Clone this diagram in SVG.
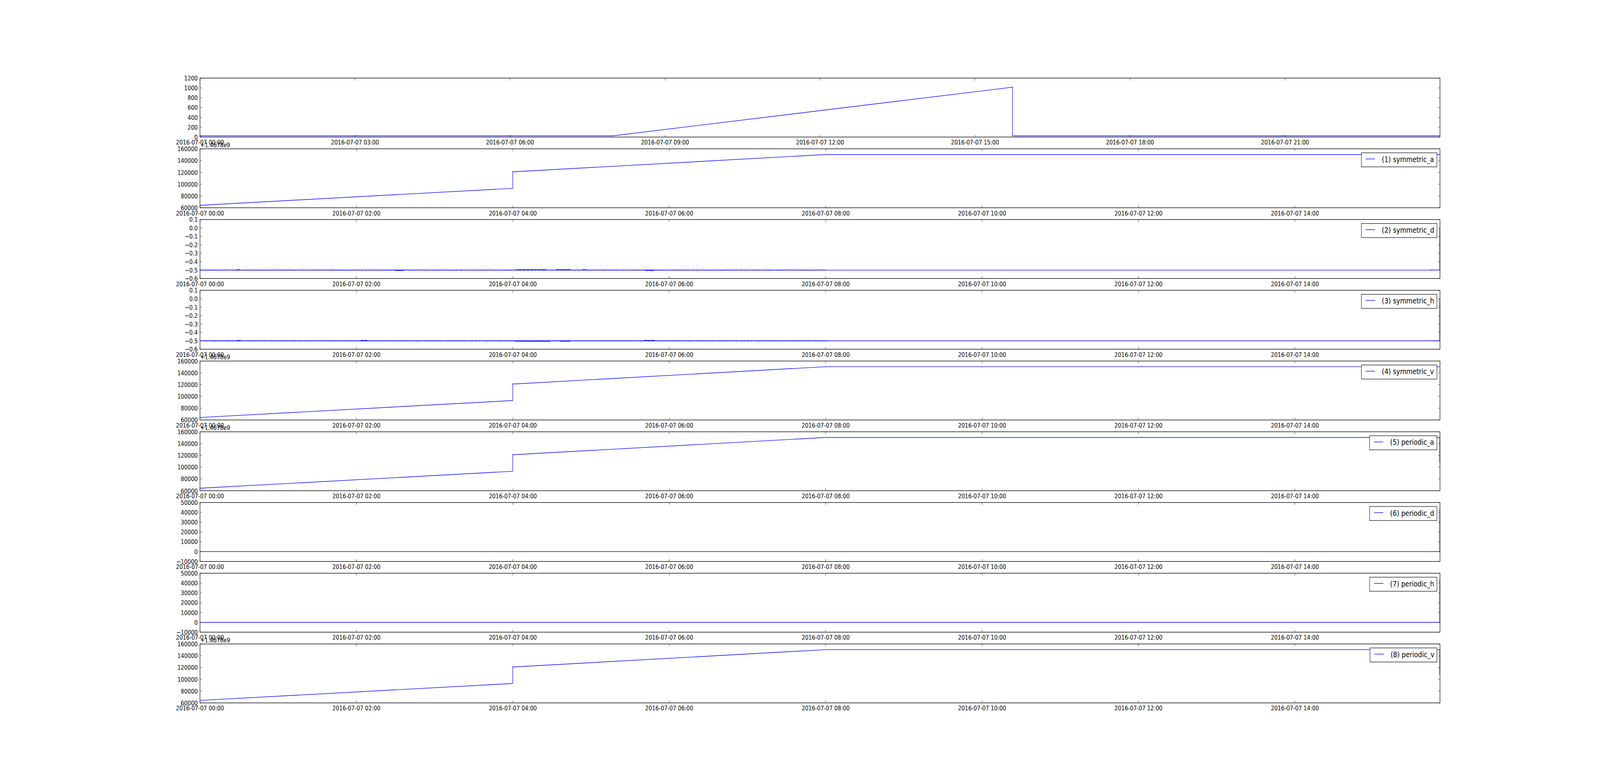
<svg xmlns="http://www.w3.org/2000/svg" width="5000" height="2000" viewBox="0 0 5000 2000" preserveAspectRatio="none">
<style>
svg{width:100vw;height:100vh}
.bg{fill:#ffffff}
.frame{fill:none;stroke:#000;stroke-width:1.4}
.tick{fill:none;stroke:#000;stroke-width:0.8}
.data{fill:none;stroke:#0000ff;stroke-width:1.4;stroke-linejoin:miter}
.tk{font-family:"DejaVu Sans","Bitstream Vera Sans",sans-serif;font-size:16.67px;fill:#000}
.yl{text-anchor:end}
.xl{text-anchor:middle}
.lbox{fill:#fff;stroke:#000;stroke-width:1.2}
.lline{stroke:#0000ff;stroke-width:1.4}
.lg{font-family:"DejaVu Sans","Bitstream Vera Sans",sans-serif;font-size:20px;fill:#000}
</style>
<defs>
<pattern id="nz1" x="0" y="-3" width="37" height="6" patternUnits="userSpaceOnUse">
<g fill="#0000ff"><rect x="0" y="1.8" width="3" height="1.2"/><rect x="5" y="3.2" width="2" height="1.1"/><rect x="9" y="1.6" width="1" height="1.4"/><rect x="12" y="1.9" width="4" height="1.1"/><rect x="18" y="3.3" width="1" height="1.2"/><rect x="21" y="2" width="3" height="2"/><rect x="27" y="1.7" width="2" height="1.3"/><rect x="31" y="3.2" width="3" height="1.1"/><rect x="35" y="1.9" width="1" height="2.2"/></g>
</pattern>
<pattern id="nz2" x="0" y="-3" width="23" height="6" patternUnits="userSpaceOnUse">
<g fill="#0000ff"><rect x="2" y="3.2" width="2" height="1.2"/><rect x="7" y="1.7" width="1" height="1.3"/><rect x="11" y="1.9" width="3" height="1.1"/><rect x="16" y="3.3" width="2" height="1"/><rect x="20" y="1.5" width="1" height="1.5"/></g>
</pattern>
<pattern id="nzB" x="0" y="-3" width="13" height="6" patternUnits="userSpaceOnUse">
<g fill="#0000ff"><rect x="0" y="0.9" width="4" height="2.1"/><rect x="4" y="1.6" width="3" height="1.4"/><rect x="7" y="0.5" width="2" height="2.5"/><rect x="9" y="1.3" width="4" height="1.7"/></g>
</pattern>
</defs>
<rect class="bg" x="0" y="0" width="5000" height="2000"/>

<!-- Axis 0 -->
<g id="ax0" transform="translate(0,200)">
<path class="data" d="M625 147.7 L1916.7 147.7 L3164.3 23.3 L3164.3 147.7 L4500 147.7"/>
<rect class="frame" x="625" y="0" width="3875" height="150.94"/>
<path class="tick" d="M625 150.94h6M4500 150.94h-6M625 125.78h6M4500 125.78h-6M625 100.63h6M4500 100.63h-6M625 75.47h6M4500 75.47h-6M625 50.31h6M4500 50.31h-6M625 25.16h6M4500 25.16h-6M625 0h6M4500 0h-6"/>
<path class="tick" d="M625 150.94v-6M625 0v6M1109.4 150.94v-6M1109.4 0v6M1593.8 150.94v-6M1593.8 0v6M2078.1 150.94v-6M2078.1 0v6M2562.5 150.94v-6M2562.5 0v6M3046.9 150.94v-6M3046.9 0v6M3531.3 150.94v-6M3531.3 0v6M4015.6 150.94v-6M4015.6 0v6"/>
<g class="tk yl">
<text x="618" y="156.94">0</text><text x="618" y="131.78">200</text><text x="618" y="106.63">400</text><text x="618" y="81.47">600</text><text x="618" y="56.31">800</text><text x="618" y="31.16">1000</text><text x="618" y="6">1200</text>
</g>
<g class="tk xl">
<text x="625" y="170.4">2016-07-07 00:00</text><text x="1109.4" y="170.4">2016-07-07 03:00</text><text x="1593.8" y="170.4">2016-07-07 06:00</text><text x="2078.1" y="170.4">2016-07-07 09:00</text><text x="2562.5" y="170.4">2016-07-07 12:00</text><text x="3046.9" y="170.4">2016-07-07 15:00</text><text x="3531.3" y="170.4">2016-07-07 18:00</text><text x="4015.6" y="170.4">2016-07-07 21:00</text>
</g>
</g>

<!-- Axis 1 symmetric_a -->
<g id="ax1" transform="translate(0,381.13)">
<path class="data" d="M625 144.6 L1602.4 101.2 L1602.4 58 L1603.6 58.9 L2580.2 14.6 L4500 14.6"/>
<rect class="frame" x="625" y="0" width="3875" height="150.94"/>
<path class="tick" d="M625 150.94h6M4500 150.94h-6M625 120.75h6M4500 120.75h-6M625 90.57h6M4500 90.57h-6M625 60.38h6M4500 60.38h-6M625 30.19h6M4500 30.19h-6M625 0h6M4500 0h-6"/>
<path class="tick" d="M625 150.94v-6M625 0v6M1113.8 150.94v-6M1113.8 0v6M1602.6 150.94v-6M1602.6 0v6M2091.4 150.94v-6M2091.4 0v6M2580.2 150.94v-6M2580.2 0v6M3069 150.94v-6M3069 0v6M3557.8 150.94v-6M3557.8 0v6M4046.6 150.94v-6M4046.6 0v6"/>
<text class="tk" x="626" y="-4.4">+1.4678e9</text>
<g class="tk yl">
<text x="618" y="156.94">60000</text><text x="618" y="126.75">80000</text><text x="618" y="96.57">100000</text><text x="618" y="66.38">120000</text><text x="618" y="36.19">140000</text><text x="618" y="6">160000</text>
</g>
<g class="tk xl">
<text x="625" y="170.4">2016-07-07 00:00</text><text x="1113.8" y="170.4">2016-07-07 02:00</text><text x="1602.6" y="170.4">2016-07-07 04:00</text><text x="2091.4" y="170.4">2016-07-07 06:00</text><text x="2580.2" y="170.4">2016-07-07 08:00</text><text x="3069" y="170.4">2016-07-07 10:00</text><text x="3557.8" y="170.4">2016-07-07 12:00</text><text x="4046.6" y="170.4">2016-07-07 14:00</text>
</g>
<g id="lg1"><rect class="lbox" x="4254.3" y="10.2" width="236" height="36"/><line class="lline" x1="4267.7" y1="26" x2="4296.7" y2="26"/><text class="lg" x="4318.3" y="33.8">(1) symmetric_a</text></g>
</g>

<!-- Axis 2 symmetric_d -->
<g id="ax2" transform="translate(0,562.26)">
<path class="data" d="M625 129.38 L4499.3 129.38 L4499.3 21.56"/>
<g transform="translate(0,129.38)">
<rect x="625" y="-3" width="1955" height="6" fill="url(#nz1)"/>
<rect x="625" y="-3" width="1955" height="6" fill="url(#nz2)"/>
<rect x="4467" y="-3" width="32" height="6" fill="url(#nz1)"/>
<rect x="1613" y="-3" width="94" height="3" fill="url(#nzB)"/>
<rect x="1737" y="-3" width="46" height="3" fill="url(#nzB)"/>
<rect x="1820" y="-3" width="13" height="3" fill="url(#nzB)"/>
<rect x="740" y="-3" width="10" height="3" fill="url(#nzB)"/>
<g transform="scale(1,-1)"><rect x="2015" y="-3" width="30" height="3" fill="url(#nzB)"/><rect x="1235" y="-3" width="26" height="3" fill="url(#nzB)"/></g>
</g>
<rect class="frame" x="625" y="0" width="3875" height="150.94"/>
<path class="tick" d="M625 150.94h6M4500 150.94h-6M625 129.38h6M4500 129.38h-6M625 107.82h6M4500 107.82h-6M625 86.25h6M4500 86.25h-6M625 64.69h6M4500 64.69h-6M625 43.13h6M4500 43.13h-6M625 21.56h6M4500 21.56h-6M625 0h6M4500 0h-6"/>
<path class="tick" d="M625 150.94v-6M625 0v6M1113.8 150.94v-6M1113.8 0v6M1602.6 150.94v-6M1602.6 0v6M2091.4 150.94v-6M2091.4 0v6M2580.2 150.94v-6M2580.2 0v6M3069 150.94v-6M3069 0v6M3557.8 150.94v-6M3557.8 0v6M4046.6 150.94v-6M4046.6 0v6"/>
<g class="tk yl">
<text x="618" y="156.94">−0.6</text><text x="618" y="135.38">−0.5</text><text x="618" y="113.82">−0.4</text><text x="618" y="92.25">−0.3</text><text x="618" y="70.69">−0.2</text><text x="618" y="49.13">−0.1</text><text x="618" y="27.56">0.0</text><text x="618" y="6">0.1</text>
</g>
<g class="tk xl">
<text x="625" y="170.4">2016-07-07 00:00</text><text x="1113.8" y="170.4">2016-07-07 02:00</text><text x="1602.6" y="170.4">2016-07-07 04:00</text><text x="2091.4" y="170.4">2016-07-07 06:00</text><text x="2580.2" y="170.4">2016-07-07 08:00</text><text x="3069" y="170.4">2016-07-07 10:00</text><text x="3557.8" y="170.4">2016-07-07 12:00</text><text x="4046.6" y="170.4">2016-07-07 14:00</text>
</g>
<g id="lg2"><rect class="lbox" x="4254.3" y="10.2" width="236" height="36"/><line class="lline" x1="4267.7" y1="26" x2="4296.7" y2="26"/><text class="lg" x="4318.3" y="33.8">(2) symmetric_d</text></g>
</g>

<!-- Axis 3 symmetric_h -->
<g id="ax3" transform="translate(0,743.40)">
<path class="data" d="M625 129.38 L4499.3 129.38 L4499.3 21.56"/>
<g transform="translate(0,129.38)">
<rect x="625" y="-3" width="1955" height="6" fill="url(#nz2)"/>
<rect x="625" y="-3" width="1955" height="6" fill="url(#nz1)" transform="translate(11,0)"/>
<rect x="4467" y="-3" width="32" height="6" fill="url(#nz2)"/>
<rect x="740" y="-3" width="12" height="3" fill="url(#nzB)"/>
<rect x="1127" y="-3" width="20" height="3" fill="url(#nzB)"/>
<rect x="2012" y="-3" width="34" height="3" fill="url(#nzB)"/>
<g transform="scale(1,-1)"><rect x="1610" y="-3" width="110" height="3" fill="url(#nzB)"/><rect x="1750" y="-3" width="30" height="3" fill="url(#nzB)"/></g>
</g>
<rect class="frame" x="625" y="0" width="3875" height="150.94"/>
<path class="tick" d="M625 150.94h6M4500 150.94h-6M625 129.38h6M4500 129.38h-6M625 107.82h6M4500 107.82h-6M625 86.25h6M4500 86.25h-6M625 64.69h6M4500 64.69h-6M625 43.13h6M4500 43.13h-6M625 21.56h6M4500 21.56h-6M625 0h6M4500 0h-6"/>
<path class="tick" d="M625 150.94v-6M625 0v6M1113.8 150.94v-6M1113.8 0v6M1602.6 150.94v-6M1602.6 0v6M2091.4 150.94v-6M2091.4 0v6M2580.2 150.94v-6M2580.2 0v6M3069 150.94v-6M3069 0v6M3557.8 150.94v-6M3557.8 0v6M4046.6 150.94v-6M4046.6 0v6"/>
<g class="tk yl">
<text x="618" y="156.94">−0.6</text><text x="618" y="135.38">−0.5</text><text x="618" y="113.82">−0.4</text><text x="618" y="92.25">−0.3</text><text x="618" y="70.69">−0.2</text><text x="618" y="49.13">−0.1</text><text x="618" y="27.56">0.0</text><text x="618" y="6">0.1</text>
</g>
<g class="tk xl">
<text x="625" y="170.4">2016-07-07 00:00</text><text x="1113.8" y="170.4">2016-07-07 02:00</text><text x="1602.6" y="170.4">2016-07-07 04:00</text><text x="2091.4" y="170.4">2016-07-07 06:00</text><text x="2580.2" y="170.4">2016-07-07 08:00</text><text x="3069" y="170.4">2016-07-07 10:00</text><text x="3557.8" y="170.4">2016-07-07 12:00</text><text x="4046.6" y="170.4">2016-07-07 14:00</text>
</g>
<g id="lg3"><rect class="lbox" x="4254.3" y="10.2" width="236" height="36"/><line class="lline" x1="4267.7" y1="26" x2="4296.7" y2="26"/><text class="lg" x="4318.3" y="33.8">(3) symmetric_h</text></g>
</g>

<!-- Axis 4 symmetric_v -->
<g id="ax4" transform="translate(0,924.53)">
<path class="data" d="M625 144.6 L1602.4 101.2 L1602.4 58 L1603.6 58.9 L2580.2 14.6 L4500 14.6"/>
<rect class="frame" x="625" y="0" width="3875" height="150.94"/>
<path class="tick" d="M625 150.94h6M4500 150.94h-6M625 120.75h6M4500 120.75h-6M625 90.57h6M4500 90.57h-6M625 60.38h6M4500 60.38h-6M625 30.19h6M4500 30.19h-6M625 0h6M4500 0h-6"/>
<path class="tick" d="M625 150.94v-6M625 0v6M1113.8 150.94v-6M1113.8 0v6M1602.6 150.94v-6M1602.6 0v6M2091.4 150.94v-6M2091.4 0v6M2580.2 150.94v-6M2580.2 0v6M3069 150.94v-6M3069 0v6M3557.8 150.94v-6M3557.8 0v6M4046.6 150.94v-6M4046.6 0v6"/>
<text class="tk" x="626" y="-4.4">+1.4678e9</text>
<g class="tk yl">
<text x="618" y="156.94">60000</text><text x="618" y="126.75">80000</text><text x="618" y="96.57">100000</text><text x="618" y="66.38">120000</text><text x="618" y="36.19">140000</text><text x="618" y="6">160000</text>
</g>
<g class="tk xl">
<text x="625" y="170.4">2016-07-07 00:00</text><text x="1113.8" y="170.4">2016-07-07 02:00</text><text x="1602.6" y="170.4">2016-07-07 04:00</text><text x="2091.4" y="170.4">2016-07-07 06:00</text><text x="2580.2" y="170.4">2016-07-07 08:00</text><text x="3069" y="170.4">2016-07-07 10:00</text><text x="3557.8" y="170.4">2016-07-07 12:00</text><text x="4046.6" y="170.4">2016-07-07 14:00</text>
</g>
<g id="lg4"><rect class="lbox" x="4254.3" y="10.2" width="236" height="36"/><line class="lline" x1="4267.7" y1="26" x2="4296.7" y2="26"/><text class="lg" x="4318.3" y="33.8">(4) symmetric_v</text></g>
</g>

<!-- Axis 5 periodic_a -->
<g id="ax5" transform="translate(0,1105.66)">
<path class="data" d="M625 144.6 L1602.4 101.2 L1602.4 58 L1603.6 58.9 L2580.2 14.6 L4499.3 14.6 L4499.3 79.2"/>
<rect class="frame" x="625" y="0" width="3875" height="150.94"/>
<path class="tick" d="M625 150.94h6M4500 150.94h-6M625 120.75h6M4500 120.75h-6M625 90.57h6M4500 90.57h-6M625 60.38h6M4500 60.38h-6M625 30.19h6M4500 30.19h-6M625 0h6M4500 0h-6"/>
<path class="tick" d="M625 150.94v-6M625 0v6M1113.8 150.94v-6M1113.8 0v6M1602.6 150.94v-6M1602.6 0v6M2091.4 150.94v-6M2091.4 0v6M2580.2 150.94v-6M2580.2 0v6M3069 150.94v-6M3069 0v6M3557.8 150.94v-6M3557.8 0v6M4046.6 150.94v-6M4046.6 0v6"/>
<text class="tk" x="626" y="-4.4">+1.4678e9</text>
<g class="tk yl">
<text x="618" y="156.94">60000</text><text x="618" y="126.75">80000</text><text x="618" y="96.57">100000</text><text x="618" y="66.38">120000</text><text x="618" y="36.19">140000</text><text x="618" y="6">160000</text>
</g>
<g class="tk xl">
<text x="625" y="170.4">2016-07-07 00:00</text><text x="1113.8" y="170.4">2016-07-07 02:00</text><text x="1602.6" y="170.4">2016-07-07 04:00</text><text x="2091.4" y="170.4">2016-07-07 06:00</text><text x="2580.2" y="170.4">2016-07-07 08:00</text><text x="3069" y="170.4">2016-07-07 10:00</text><text x="3557.8" y="170.4">2016-07-07 12:00</text><text x="4046.6" y="170.4">2016-07-07 14:00</text>
</g>
<g id="lg5"><rect class="lbox" x="4280" y="10.2" width="210.3" height="36"/><line class="lline" x1="4294" y1="26" x2="4322.7" y2="26"/><text class="lg" x="4344.3" y="33.8">(5) periodic_a</text></g>
</g>

<!-- Axis 6 periodic_d -->
<g id="ax6" transform="translate(0,1286.79)">
<path class="data" d="M625 125.78 L4499.3 125.78 L4499.3 15.6"/>
<rect class="frame" x="625" y="0" width="3875" height="150.94"/>
<path class="tick" d="M625 150.94h6M4500 150.94h-6M625 125.78h6M4500 125.78h-6M625 100.63h6M4500 100.63h-6M625 75.47h6M4500 75.47h-6M625 50.31h6M4500 50.31h-6M625 25.16h6M4500 25.16h-6M625 0h6M4500 0h-6"/>
<path class="tick" d="M625 150.94v-6M625 0v6M1113.8 150.94v-6M1113.8 0v6M1602.6 150.94v-6M1602.6 0v6M2091.4 150.94v-6M2091.4 0v6M2580.2 150.94v-6M2580.2 0v6M3069 150.94v-6M3069 0v6M3557.8 150.94v-6M3557.8 0v6M4046.6 150.94v-6M4046.6 0v6"/>
<g class="tk yl">
<text x="618" y="156.94">−10000</text><text x="618" y="131.78">0</text><text x="618" y="106.63">10000</text><text x="618" y="81.47">20000</text><text x="618" y="56.31">30000</text><text x="618" y="31.16">40000</text><text x="618" y="6">50000</text>
</g>
<g class="tk xl">
<text x="625" y="170.4">2016-07-07 00:00</text><text x="1113.8" y="170.4">2016-07-07 02:00</text><text x="1602.6" y="170.4">2016-07-07 04:00</text><text x="2091.4" y="170.4">2016-07-07 06:00</text><text x="2580.2" y="170.4">2016-07-07 08:00</text><text x="3069" y="170.4">2016-07-07 10:00</text><text x="3557.8" y="170.4">2016-07-07 12:00</text><text x="4046.6" y="170.4">2016-07-07 14:00</text>
</g>
<g id="lg6"><rect class="lbox" x="4280" y="10.2" width="210.3" height="36"/><line class="lline" x1="4294" y1="26" x2="4322.7" y2="26"/><text class="lg" x="4344.3" y="33.8">(6) periodic_d</text></g>
</g>

<!-- Axis 7 periodic_h -->
<g id="ax7" transform="translate(0,1467.92)">
<path class="data" d="M625 125.78 L4499.3 125.78 L4499.3 15.6"/>
<rect class="frame" x="625" y="0" width="3875" height="150.94"/>
<path class="tick" d="M625 150.94h6M4500 150.94h-6M625 125.78h6M4500 125.78h-6M625 100.63h6M4500 100.63h-6M625 75.47h6M4500 75.47h-6M625 50.31h6M4500 50.31h-6M625 25.16h6M4500 25.16h-6M625 0h6M4500 0h-6"/>
<path class="tick" d="M625 150.94v-6M625 0v6M1113.8 150.94v-6M1113.8 0v6M1602.6 150.94v-6M1602.6 0v6M2091.4 150.94v-6M2091.4 0v6M2580.2 150.94v-6M2580.2 0v6M3069 150.94v-6M3069 0v6M3557.8 150.94v-6M3557.8 0v6M4046.6 150.94v-6M4046.6 0v6"/>
<g class="tk yl">
<text x="618" y="156.94">−10000</text><text x="618" y="131.78">0</text><text x="618" y="106.63">10000</text><text x="618" y="81.47">20000</text><text x="618" y="56.31">30000</text><text x="618" y="31.16">40000</text><text x="618" y="6">50000</text>
</g>
<g class="tk xl">
<text x="625" y="170.4">2016-07-07 00:00</text><text x="1113.8" y="170.4">2016-07-07 02:00</text><text x="1602.6" y="170.4">2016-07-07 04:00</text><text x="2091.4" y="170.4">2016-07-07 06:00</text><text x="2580.2" y="170.4">2016-07-07 08:00</text><text x="3069" y="170.4">2016-07-07 10:00</text><text x="3557.8" y="170.4">2016-07-07 12:00</text><text x="4046.6" y="170.4">2016-07-07 14:00</text>
</g>
<g id="lg7"><rect class="lbox" x="4280" y="10.2" width="210.3" height="36"/><line class="lline" x1="4294" y1="26" x2="4322.7" y2="26"/><text class="lg" x="4344.3" y="33.8">(7) periodic_h</text></g>
</g>

<!-- Axis 8 periodic_v -->
<g id="ax8" transform="translate(0,1649.06)">
<path class="data" d="M625 144.6 L1602.4 101.2 L1602.4 58 L1603.6 58.9 L2580.2 14.6 L4499.3 14.6 L4499.3 79.2"/>
<rect class="frame" x="625" y="0" width="3875" height="150.94"/>
<path class="tick" d="M625 150.94h6M4500 150.94h-6M625 120.75h6M4500 120.75h-6M625 90.57h6M4500 90.57h-6M625 60.38h6M4500 60.38h-6M625 30.19h6M4500 30.19h-6M625 0h6M4500 0h-6"/>
<path class="tick" d="M625 150.94v-6M625 0v6M1113.8 150.94v-6M1113.8 0v6M1602.6 150.94v-6M1602.6 0v6M2091.4 150.94v-6M2091.4 0v6M2580.2 150.94v-6M2580.2 0v6M3069 150.94v-6M3069 0v6M3557.8 150.94v-6M3557.8 0v6M4046.6 150.94v-6M4046.6 0v6"/>
<text class="tk" x="626" y="-4.4">+1.4678e9</text>
<g class="tk yl">
<text x="618" y="156.94">60000</text><text x="618" y="126.75">80000</text><text x="618" y="96.57">100000</text><text x="618" y="66.38">120000</text><text x="618" y="36.19">140000</text><text x="618" y="6">160000</text>
</g>
<g class="tk xl">
<text x="625" y="170.4">2016-07-07 00:00</text><text x="1113.8" y="170.4">2016-07-07 02:00</text><text x="1602.6" y="170.4">2016-07-07 04:00</text><text x="2091.4" y="170.4">2016-07-07 06:00</text><text x="2580.2" y="170.4">2016-07-07 08:00</text><text x="3069" y="170.4">2016-07-07 10:00</text><text x="3557.8" y="170.4">2016-07-07 12:00</text><text x="4046.6" y="170.4">2016-07-07 14:00</text>
</g>
<g id="lg8"><rect class="lbox" x="4281.3" y="10.2" width="209" height="36"/><line class="lline" x1="4295.3" y1="26" x2="4324" y2="26"/><text class="lg" x="4345.6" y="33.8">(8) periodic_v</text></g>
</g>
</svg>
